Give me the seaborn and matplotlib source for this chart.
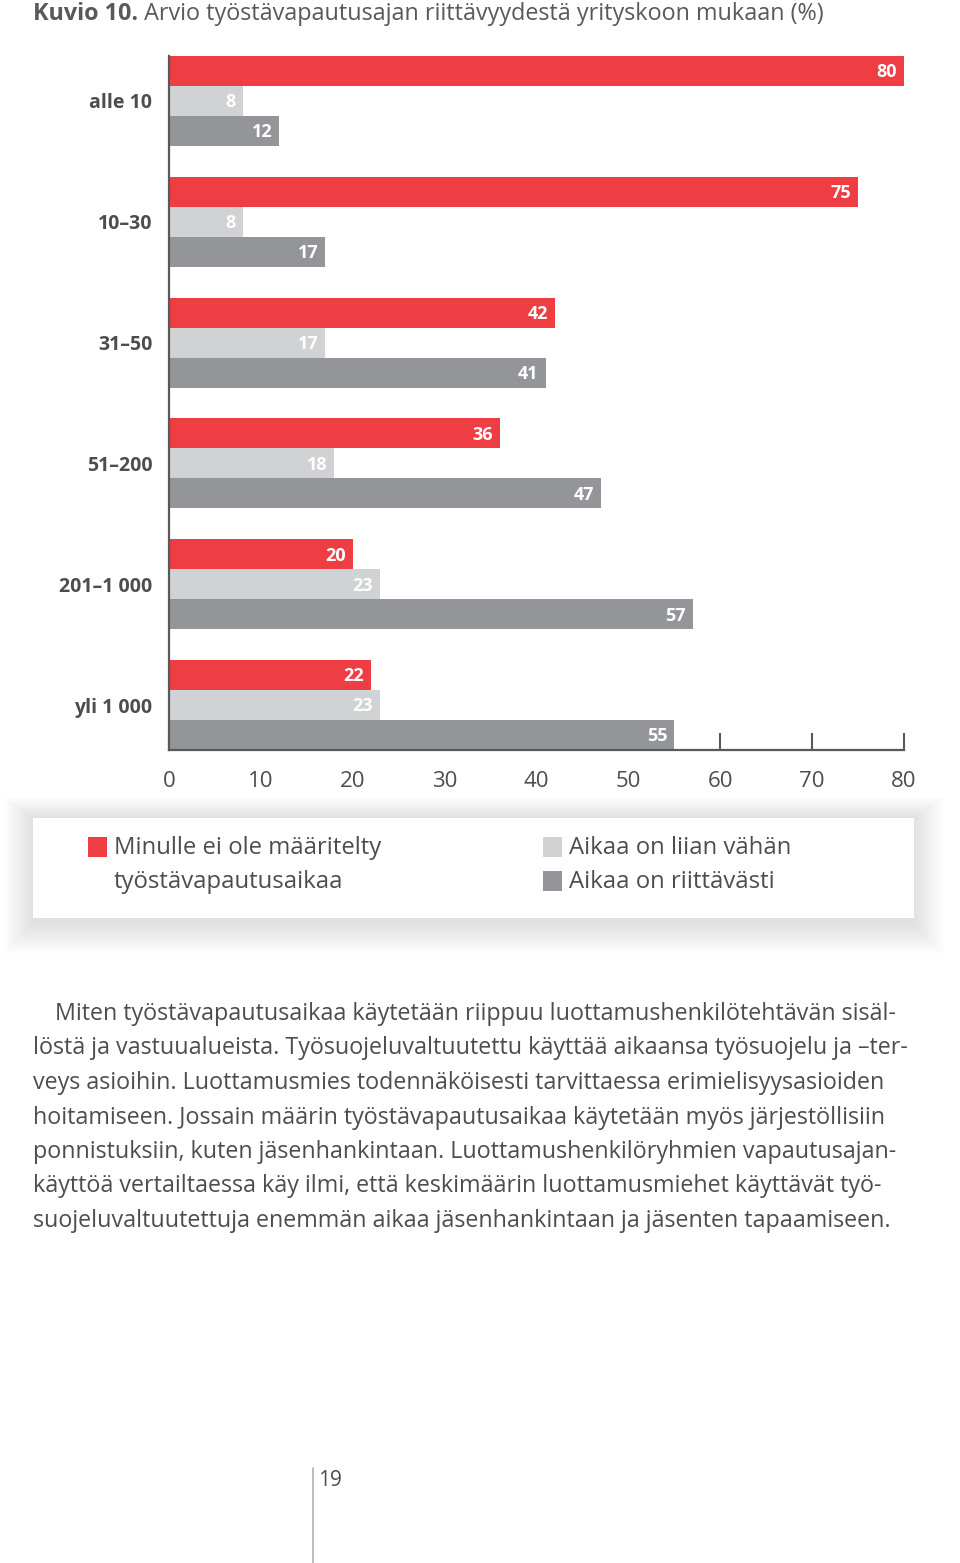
# kuvio10.py - työstävapautusajan riittävyys yrityskoon mukaan
import pandas as pd
import matplotlib.pyplot as plt
import seaborn as sns
from matplotlib.patches import Rectangle
from matplotlib.lines import Line2D

# Data
kokoluokat = ['alle 10', '10–30', '31–50', '51–200', '201–1 000', 'yli 1 000']
ei_maaritelty = [80, 75, 42, 36, 20, 22]
liian_vahan = [8, 8, 17, 18, 23, 23]
riittavasti = [12, 17, 41, 47, 57, 55]
sarjat = ['Minulle ei ole määritelty\ntyöstävapautusaikaa', 'Aikaa on liian vähän', 'Aikaa on riittävästi']
varit = ['#ee3d43', '#d1d2d4', '#939598']
x_ticks = [0, 10, 20, 30, 40, 50, 60, 70, 80]

body_lines = [
    'Miten työstävapautusaikaa käytetään riippuu luottamushenkilötehtävän sisäl-',
    'löstä ja vastuualueista. Työsuojeluvaltuutettu käyttää aikaansa työsuojelu ja –ter-',
    'veys asioihin. Luottamusmies todennäköisesti tarvittaessa erimielisyysasioiden',
    'hoitamiseen. Jossain määrin työstävapautusaikaa käytetään myös järjestöllisiin',
    'ponnistuksiin, kuten jäsenhankintaan. Luottamushenkilöryhmien vapautusajan-',
    'käyttöä vertailtaessa käy ilmi, että keskimäärin luottamusmiehet käyttävät työ-',
    'suojeluvaltuutettuja enemmän aikaa jäsenhankintaan ja jäsenten tapaamiseen.',
]

# long form table for seaborn
rows = []
for sarja, arvot in zip(sarjat, [ei_maaritelty, liian_vahan, riittavasti]):
    for k, v in zip(kokoluokat, arvot):
        rows.append({'koko': k, 'sarja': sarja, 'osuus': v})
df = pd.DataFrame(rows)

sns.set_style('white')
plt.rcParams['font.family'] = ['Open Sans', 'DejaVu Sans']
text_col = '#4d4d4f'

W, H = 960, 1563
fig = plt.figure(figsize=(W / 100, H / 100), dpi=100)

def fx(px):
    return px / W

def fy(py):
    return 1 - py / H

ax = fig.add_axes([fx(169), fy(750), fx(904) - fx(169), fy(56) - fy(750)])
ax.set_axisbelow(True)
sns.barplot(data=df, y='koko', x='osuus', hue='sarja', palette=varit, orient='h',
            width=0.745, saturation=1, errorbar=None, linewidth=0, legend=False, ax=ax)

ax.set_xlim(0, 80)
ax.set_ylim(5.3725, -0.3725)
ax.set_xticks(x_ticks)
ax.set_xlabel('')
ax.set_ylabel('')
for s in ['top', 'right']:
    ax.spines[s].set_visible(False)
for s in ['left', 'bottom']:
    ax.spines[s].set_color('#58595b')
    ax.spines[s].set_linewidth(1.6)
ax.tick_params(axis='x', bottom=True, direction='in', length=12, width=1.5, color='#58595b',
               pad=15, labelsize=16, labelcolor=text_col)
ax.tick_params(axis='y', length=0, pad=12, labelsize=14, labelcolor=text_col)
for lab in ax.get_yticklabels():
    lab.set_fontweight('bold')

# value labels inside bar ends
for cont in ax.containers:
    for bar in cont:
        w = bar.get_width()
        ax.annotate(f'{w:.0f}', (w, bar.get_y() + bar.get_height() / 2),
                    xytext=(-5, -1), textcoords='offset points', ha='right', va='center',
                    color='white', fontsize=13, fontweight='bold')

# title
t1 = fig.text(fx(33), fy(14), 'Kuvio 10.', fontsize=16.8, fontweight='bold',
              color='#58595b', va='center', ha='left')
ax.annotate(' Arvio työstävapautusajan riittävyydestä yrityskoon mukaan (%)',
            xy=(1, 0), xycoords=t1, va='bottom', ha='left', fontsize=16.8,
            color='#58595b', annotation_clip=False)

# legend box with soft shadow
x0, x1, y0, y1 = 33, 914, 818, 918
for g in range(30, 0, -1):
    fig.patches.append(Rectangle((fx(x0 - g), fy(y1 + g + 6)),
                                 fx(x1 - x0 + 2 * g),
                                 fy(y0 - 0.7 * g) - fy(y1 + g + 6),
                                 transform=fig.transFigure, facecolor='#000000',
                                 alpha=0.0045, linewidth=0, zorder=0))
fig.patches.append(Rectangle((fx(x0), fy(y1)), fx(x1 - x0), fy(y0) - fy(y1),
                             transform=fig.transFigure, facecolor='white',
                             linewidth=0, zorder=1))

leg_items = [(88, 848, sarjat[0], varit[0]), (543, 848, sarjat[1], varit[1]),
             (543, 882, sarjat[2], varit[2])]
for px, py, lab, col in leg_items:
    fig.patches.append(Rectangle((fx(px), fy(py + 9)), fx(19), fy(0) - fy(20),
                                 transform=fig.transFigure, facecolor=col,
                                 linewidth=0, zorder=2))
    for j, part in enumerate(lab.split('\n')):
        fig.text(fx(px + 26), fy(py + j * 34), part, fontsize=17.2, color=text_col,
                 va='center', ha='left', zorder=3)

# body text
for i, line in enumerate(body_lines):
    x = 55 if i == 0 else 33
    fig.text(fx(x), fy(1014 + i * 34.5), line, fontsize=16.75, color=text_col,
             va='center', ha='left')

# page number
fig.add_artist(Line2D([fx(313), fx(313)], [fy(1468), fy(1563)], color='#b0b0b0',
                      linewidth=1.2, transform=fig.transFigure))
fig.text(fx(318), fy(1481), '19', fontsize=15, color=text_col, va='center', ha='left')

plt.savefig('out.png', dpi=100)
